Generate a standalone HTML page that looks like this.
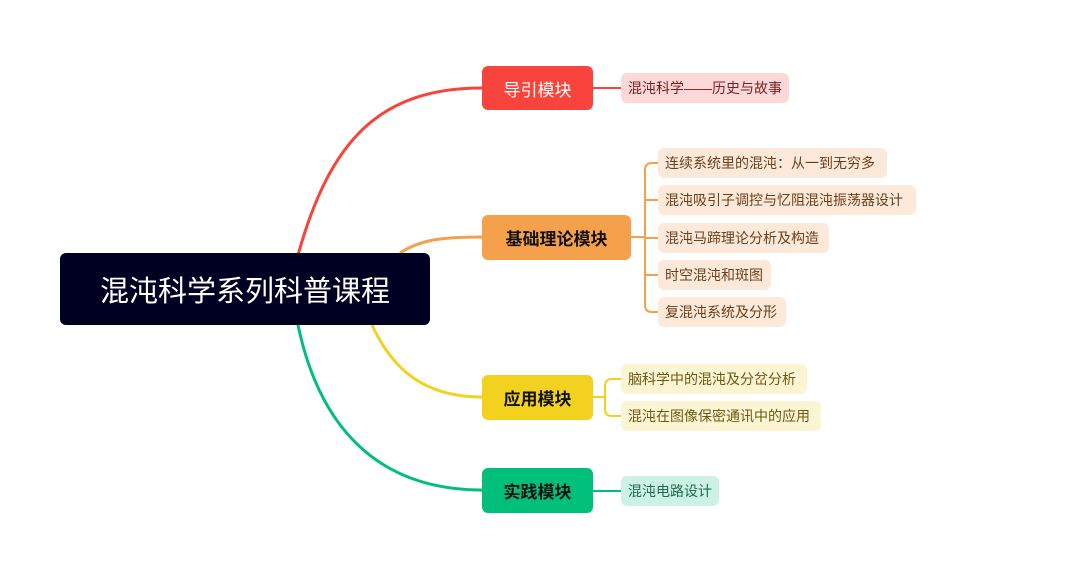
<!DOCTYPE html>
<html><head><meta charset="utf-8"><style>
body{margin:0;width:1080px;height:564px;background:#fff;position:relative;overflow:hidden;font-family:"Liberation Sans","Noto Sans CJK SC",sans-serif}
.b{position:absolute;border-radius:6px;display:flex;align-items:center;justify-content:center;box-sizing:border-box}
.l{position:absolute;border-radius:6px;height:30px;line-height:30px;padding:0 7px;font-size:14px;box-sizing:border-box;white-space:nowrap}
</style></head><body>
<svg width="1080" height="564" style="position:absolute;left:0;top:0" fill="none" stroke-width="3">
<path d="M298 255 C330 140 380 88 482 88" stroke="#f8443c"/>
<path d="M400 253 C420 240 440 237 482 237" stroke="#f5a04a"/>
<path d="M372 325 C395 375 430 397 482 397" stroke="#f2d21f"/>
<path d="M298 325 C320 430 380 490 482 490" stroke="#00bf7a"/>
<g stroke-width="2">
<path d="M593 88 H621" stroke="#f8443c"/>
<path d="M631 237 H645 M658 163 H652 Q645 163 645 170 V305 Q645 312 652 312 H658 M645 200 H658 M645 238 H658 M645 275 H658" stroke="#f5a04a"/>
<path d="M593 397 H605 M621 379 H612 Q605 379 605 386 V409 Q605 416 612 416 H621" stroke="#f2d21f"/>
<path d="M593 491 H621" stroke="#00bf7a"/>
</g>
</svg>
<div class="b" style="left:60px;top:253px;width:370px;height:72px;background:#000022;color:#fff;font-size:29px">混沌科学系列科普课程</div>
<div class="b" style="left:482px;top:66px;width:111px;height:44px;background:#f8443c;color:#fff;font-size:17px">导引模块</div>
<div class="b" style="left:482px;top:215px;width:149px;height:45px;background:#f5a04a;color:#111;font-size:17px;font-weight:bold">基础理论模块</div>
<div class="b" style="left:482px;top:375px;width:111px;height:45px;background:#f2d21f;color:#111;font-size:17px;font-weight:bold">应用模块</div>
<div class="b" style="left:482px;top:468px;width:111px;height:45px;background:#00bf7a;color:#111;font-size:17px;font-weight:bold">实践模块</div>
<div class="l" style="left:621px;top:73px;width:168px;background:#fdd8d8;color:#7a2020">混沌科学——历史与故事</div>
<div class="l" style="left:658px;top:148px;width:229px;background:#fde9d9;color:#6b3f1a">连续系统里的混沌：从一到无穷多</div>
<div class="l" style="left:658px;top:185px;width:258px;background:#fde9d9;color:#6b3f1a">混沌吸引子调控与忆阻混沌振荡器设计</div>
<div class="l" style="left:658px;top:223px;width:171px;background:#fde9d9;color:#6b3f1a">混沌马蹄理论分析及构造</div>
<div class="l" style="left:658px;top:260px;width:113px;background:#fde9d9;color:#6b3f1a">时空混沌和斑图</div>
<div class="l" style="left:658px;top:297px;width:128px;background:#fde9d9;color:#6b3f1a">复混沌系统及分形</div>
<div class="l" style="left:621px;top:364px;width:186px;background:#fcf4d2;color:#6b5a10">脑科学中的混沌及分岔分析</div>
<div class="l" style="left:621px;top:401px;width:200px;background:#fcf4d2;color:#6b5a10">混沌在图像保密通讯中的应用</div>
<div class="l" style="left:621px;top:476px;width:98px;background:#cdf1e4;color:#1d6b4e">混沌电路设计</div>
</body></html>
